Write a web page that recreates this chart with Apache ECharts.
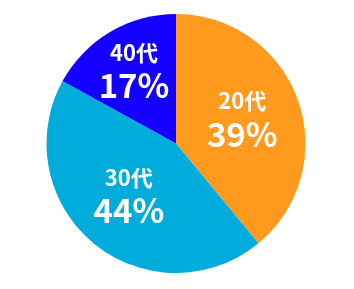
<!DOCTYPE html>
<html>
<head>
<meta charset="utf-8">
<script src="https://cdn.jsdelivr.net/npm/echarts@6/dist/echarts.min.js"></script>
<style>
html,body{margin:0;padding:0;background:#fff;}
#chart{width:354px;height:289px;}
</style>
</head>
<body>
<div id="chart"></div>
<script>
var categories = ['20代', '30代', '40代'];
var values = [39, 44, 17];
var colors = ['#FF9A1E', '#00ACDC', '#1500FF'];
// label fine-tuning offsets (px) per slice
var labelShift = [[2.5, -1.5], [-4, -0.5], [-7.5, -15]];

var chart = echarts.init(document.getElementById('chart'), null, {renderer: 'canvas'});
chart.setOption({
  animation: false,
  series: [{
    type: 'pie',
    center: [176, 143.5],
    radius: [0, 129.5],
    startAngle: 90,
    clockwise: true,
    silent: true,
    data: categories.map(function (c, i) {
      return {name: c, value: values[i], itemStyle: {color: colors[i]}};
    }),
    label: {
      show: true,
      position: 'inside',
      formatter: function (p) { return '{a|' + p.name + '}\n{b|' + p.value + '%}'; },
      rich: {
        a: {color: '#fff', fontSize: 22, fontWeight: 'bold', fontFamily: '"Noto Sans CJK JP", "Noto Sans", sans-serif', lineHeight: 30, align: 'center'},
        b: {color: '#fff', fontSize: 33, fontWeight: 'bold', fontFamily: '"Noto Sans CJK JP", "Noto Sans", sans-serif', lineHeight: 36, align: 'center'}
      }
    },
    labelLine: {show: false},
    labelLayout: function (params) {
      var s = labelShift[params.dataIndex];
      return {dx: s[0], dy: s[1]};
    }
  }]
});
</script>
</body>
</html>
